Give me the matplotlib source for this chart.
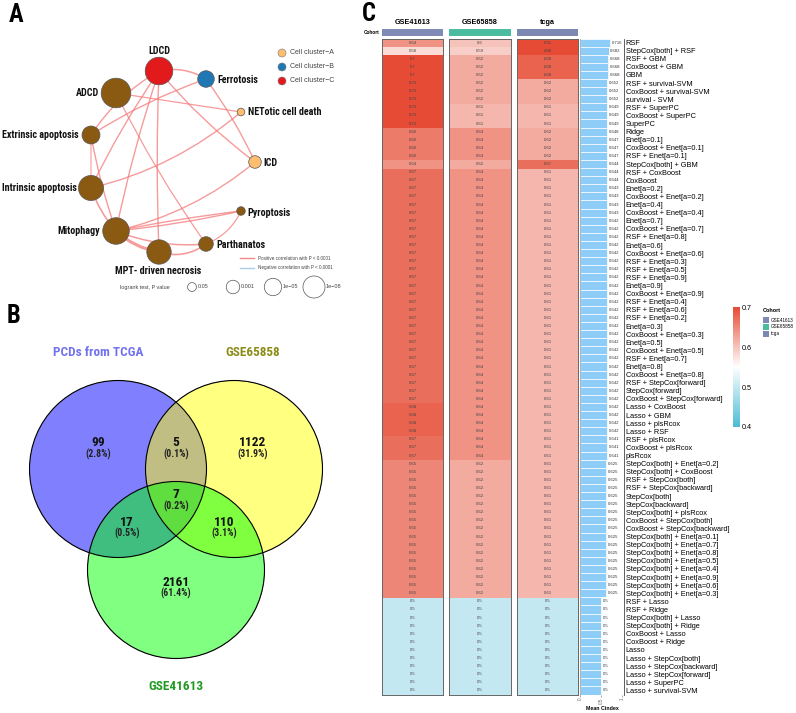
import numpy as np
import matplotlib
matplotlib.use("Agg")
import matplotlib.pyplot as plt
from matplotlib import font_manager as fm
from matplotlib.font_manager import FontProperties
from matplotlib.colors import LinearSegmentedColormap, Normalize, to_rgb
from matplotlib.patches import Circle, FancyArrowPatch, Rectangle
from matplotlib.cm import ScalarMappable

# ======================= DATA =======================
# ---- Panel A : PCD network ----
pcd_nodes = ["LDCD", "Ferrotosis", "ADCD", "NETotic cell death", "Extrinsic apoptosis", "ICD",
             "Intrinsic apoptosis", "Pyroptosis", "Mitophagy", "Parthanatos", "MPT- driven necrosis"]
pcd_cluster = ["C", "B", "D", "A", "D", "A", "D", "D", "D", "D", "D"]
pcd_neglog10p = [12.5, 4.5, 14.4, 0.95, 5.3, 2.6, 10.3, 1.2, 11.6, 3.5, 9.8]
pcd_edges = [("LDCD", "Ferrotosis"), ("LDCD", "Extrinsic apoptosis"), ("LDCD", "Intrinsic apoptosis"),
             ("LDCD", "Mitophagy"), ("LDCD", "MPT- driven necrosis"), ("LDCD", "ICD"),
             ("Ferrotosis", "Extrinsic apoptosis"), ("Ferrotosis", "ICD"),
             ("ADCD", "NETotic cell death"), ("ADCD", "Parthanatos"),
             ("NETotic cell death", "Intrinsic apoptosis"), ("ICD", "Mitophagy"),
             ("Extrinsic apoptosis", "Intrinsic apoptosis"), ("Extrinsic apoptosis", "Mitophagy"),
             ("Intrinsic apoptosis", "Mitophagy"), ("Mitophagy", "Pyroptosis"),
             ("Mitophagy", "Pyroptosis"), ("Mitophagy", "Parthanatos"),
             ("Mitophagy", "MPT- driven necrosis"), ("MPT- driven necrosis", "Parthanatos"),
             ("Parthanatos", "Pyroptosis")]
cluster_legend = ["Cell cluster\u2212A", "Cell cluster\u2212B", "Cell cluster\u2212C"]
legend_p = [0.05, 0.001, 1e-05, 1e-08]
legend_p_labels = ["0.05", "0.001", "1e\u221205", "1e\u221208"]

# ---- Panel B : Venn ----
venn_sets = ["PCDs from TCGA", "GSE65858", "GSE41613"]
venn_regions = ["100", "010", "001", "110", "101", "011", "111"]
venn_counts = [99, 1122, 2161, 5, 17, 110, 7]

# ---- Panel C : C-index heatmap ----
cohorts = ["GSE41613", "GSE65858", "tcga"]
models = [
    "RSF", "StepCox[both] + RSF", "RSF + GBM", "CoxBoost + GBM", "GBM",
    "RSF + survival-SVM", "CoxBoost + survival-SVM", "survival - SVM", "RSF + SuperPC",
    "CoxBoost + SuperPC", "SuperPC", "Ridge", "Enet[a=0.1]", "CoxBoost + Enet[a=0.1]",
    "RSF + Enet[a=0.1]", "StepCox[both] + GBM", "RSF + CoxBoost", "CoxBoost", "Enet[a=0.2]",
    "CoxBoost + Enet[a=0.2]", "Enet[a=0.4]", "CoxBoost + Enet[a=0.4]", "Enet[a=0.7]",
    "CoxBoost + Enet[a=0.7]", "RSF + Enet[a=0.8]", "Enet[a=0.6]", "CoxBoost + Enet[a=0.6]",
    "RSF + Enet[a=0.3]", "RSF + Enet[a=0.5]", "RSF + Enet[a=0.9]", "Enet[a=0.9]",
    "CoxBoost + Enet[a=0.9]", "RSF + Enet[a=0.4]", "RSF + Enet[a=0.6]", "RSF + Enet[a=0.2]",
    "Enet[a=0.3]", "CoxBoost + Enet[a=0.3]", "Enet[a=0.5]", "CoxBoost + Enet[a=0.5]",
    "RSF + Enet[a=0.7]", "Enet[a=0.8]", "CoxBoost + Enet[a=0.8]", "RSF + StepCox[forward]",
    "StepCox[forward]", "CoxBoost + StepCox[forward]", "Lasso + CoxBoost", "Lasso + GBM",
    "Lasso + plsRcox", "Lasso + RSF", "RSF + plsRcox", "CoxBoost + plsRcox", "plsRcox",
    "StepCox[both] + Enet[a=0.2]", "StepCox[both] + CoxBoost", "RSF + StepCox[both]",
    "RSF + StepCox[backward]", "StepCox[both]", "StepCox[backward]", "StepCox[both] + plsRcox",
    "CoxBoost + StepCox[both]", "CoxBoost + StepCox[backward]", "StepCox[both] + Enet[a=0.1]",
    "StepCox[both] + Enet[a=0.7]", "StepCox[both] + Enet[a=0.8]", "StepCox[both] + Enet[a=0.5]",
    "StepCox[both] + Enet[a=0.4]", "StepCox[both] + Enet[a=0.9]", "StepCox[both] + Enet[a=0.6]",
    "StepCox[both] + Enet[a=0.3]", "RSF + Lasso", "RSF + Ridge", "StepCox[both] + Lasso",
    "StepCox[both] + Ridge", "CoxBoost + Lasso", "CoxBoost + Ridge", "Lasso",
    "Lasso + StepCox[both]", "Lasso + StepCox[backward]", "Lasso + StepCox[forward]",
    "Lasso + SuperPC", "Lasso + survival-SVM"]
cidx_gse41613 = [
    0.64, 0.58, 0.70, 0.70, 0.70, 0.72, 0.72, 0.72, 0.72, 0.72,
    0.72, 0.66, 0.66, 0.66, 0.66, 0.64, 0.67, 0.67, 0.67, 0.67,
    0.67, 0.67, 0.67, 0.67, 0.67, 0.67, 0.67, 0.67, 0.67, 0.67,
    0.67, 0.67, 0.67, 0.67, 0.67, 0.67, 0.67, 0.67, 0.67, 0.67,
    0.67, 0.67, 0.67, 0.67, 0.67, 0.68, 0.68, 0.68, 0.68, 0.67,
    0.67, 0.67, 0.65, 0.65, 0.65, 0.65, 0.65, 0.65, 0.65, 0.65,
    0.65, 0.65, 0.65, 0.65, 0.65, 0.65, 0.65, 0.65, 0.65, 0.50,
    0.50, 0.50, 0.50, 0.50, 0.50, 0.50, 0.50, 0.50, 0.50, 0.50,
    0.50]
cidx_gse65858 = [
    0.60, 0.59, 0.62, 0.62, 0.62, 0.62, 0.62, 0.62, 0.61, 0.61,
    0.61, 0.64, 0.64, 0.64, 0.64, 0.62, 0.64, 0.64, 0.64, 0.64,
    0.64, 0.64, 0.64, 0.64, 0.64, 0.64, 0.64, 0.64, 0.64, 0.64,
    0.64, 0.64, 0.64, 0.64, 0.64, 0.64, 0.64, 0.64, 0.64, 0.64,
    0.64, 0.64, 0.64, 0.64, 0.64, 0.64, 0.64, 0.64, 0.64, 0.64,
    0.64, 0.64, 0.62, 0.62, 0.62, 0.62, 0.62, 0.62, 0.62, 0.62,
    0.62, 0.62, 0.62, 0.62, 0.62, 0.62, 0.62, 0.62, 0.62, 0.50,
    0.50, 0.50, 0.50, 0.50, 0.50, 0.50, 0.50, 0.50, 0.50, 0.50,
    0.50]
cidx_tcga = [
    0.91, 0.88, 0.68, 0.68, 0.68, 0.62, 0.62, 0.62, 0.61, 0.61,
    0.61, 0.62, 0.62, 0.62, 0.62, 0.67, 0.61, 0.61, 0.61, 0.61,
    0.61, 0.61, 0.61, 0.61, 0.61, 0.61, 0.61, 0.61, 0.61, 0.61,
    0.61, 0.61, 0.61, 0.61, 0.61, 0.61, 0.61, 0.61, 0.61, 0.61,
    0.61, 0.61, 0.61, 0.61, 0.61, 0.61, 0.61, 0.61, 0.61, 0.61,
    0.61, 0.61, 0.61, 0.61, 0.61, 0.61, 0.61, 0.61, 0.61, 0.61,
    0.61, 0.61, 0.61, 0.61, 0.61, 0.61, 0.61, 0.61, 0.61, 0.50,
    0.50, 0.50, 0.50, 0.50, 0.50, 0.50, 0.50, 0.50, 0.50, 0.50,
    0.50]
mean_cindex = [
    0.716, 0.682, 0.668, 0.668, 0.668, 0.652, 0.652, 0.652, 0.649, 0.649,
    0.649, 0.648, 0.647, 0.647, 0.647, 0.644, 0.644, 0.644, 0.643, 0.643,
    0.643, 0.643, 0.642, 0.642, 0.642, 0.642, 0.642, 0.642, 0.642, 0.642,
    0.642, 0.642, 0.642, 0.642, 0.642, 0.642, 0.642, 0.642, 0.642, 0.642,
    0.642, 0.642, 0.642, 0.642, 0.642, 0.642, 0.642, 0.642, 0.642, 0.641,
    0.641, 0.641, 0.625, 0.625, 0.625, 0.625, 0.625, 0.625, 0.625, 0.625,
    0.625, 0.625, 0.625, 0.625, 0.625, 0.625, 0.625, 0.625, 0.625, 0.5,
    0.5, 0.5, 0.5, 0.5, 0.5, 0.5, 0.5, 0.5, 0.5, 0.5,
    0.5]

# ======================= STYLE / LAYOUT =======================
W, H = 796, 713
SANS = "Liberation Sans"
plt.rcParams["font.family"] = [SANS, "DejaVu Sans"]


def _is_bold(w):
    if isinstance(w, str):
        return w.lower() in ("bold", "semibold", "demibold", "demi", "heavy", "extra bold", "black")
    return w >= 600


def find_condensed_bold():
    prefer = ["Liberation Sans Narrow", "Roboto Condensed", "Open Sans Condensed", "Noto Sans Condensed",
              "Arial Narrow", "DejaVu Sans Condensed"]
    cands = []
    for f in fm.fontManager.ttflist:
        if f.style != "normal" or not _is_bold(f.weight):
            continue
        stretch = str(f.stretch).lower()
        fname_low = f.fname.lower()
        is_cond = (f.name in prefer) or ("condensed" in stretch) or ("narrow" in fname_low) or \
                  ("condensed" in fname_low and "semi" not in fname_low and "extra" not in fname_low)
        if is_cond:
            rank = prefer.index(f.name) if f.name in prefer else len(prefer)
            wt = f.weight if not isinstance(f.weight, str) else 700
            cands.append((rank, abs(wt - 700), f.fname))
    if cands:
        cands.sort()
        return cands[0][2]
    return None


COND_FILE = find_condensed_bold()
WF = 0.82 if COND_FILE else 1.0


def cprops(size):
    if COND_FILE:
        return FontProperties(fname=COND_FILE, size=size)
    return FontProperties(family=[SANS, "DejaVu Sans"], weight="bold", size=size)


fig = plt.figure(figsize=(W / 100, H / 100), dpi=100)
fig.patch.set_facecolor("white")


def px(x0, y0, x1, y1):
    return [x0 / W, 1 - y1 / H, (x1 - x0) / W, (y1 - y0) / H]


ax0 = fig.add_axes([0, 0, 1, 1])
ax0.set_xlim(0, W)
ax0.set_ylim(H, 0)
ax0.axis("off")


def cond_text(x, y, s, size, **kw):
    ax0.text(x, y, s, fontproperties=cprops(size), **kw)


# panel letters
cond_text(9, 15, "A", 14.5 / WF, ha="left", va="center")
cond_text(7, 316, "B", 14.5 / WF, ha="left", va="center")
cond_text(362, 14, "C", 14.5 / WF, ha="left", va="center")

# ======================= PANEL A =======================
node_xy = {"LDCD": (159, 71), "Ferrotosis": (206, 79), "ADCD": (116, 93),
           "NETotic cell death": (241, 112), "Extrinsic apoptosis": (91, 135), "ICD": (255, 162),
           "Intrinsic apoptosis": (91, 188), "Pyroptosis": (241, 211), "Mitophagy": (116, 231),
           "Parthanatos": (206, 244), "MPT- driven necrosis": (159, 252)}
label_xy = {"LDCD": (159, 51, "center"), "Ferrotosis": (217, 80, "left"), "ADCD": (99, 93, "right"),
            "NETotic cell death": (248, 112, "left"), "Extrinsic apoptosis": (79, 135, "right"),
            "ICD": (263, 163, "left"), "Intrinsic apoptosis": (77, 188, "right"),
            "Pyroptosis": (247, 213, "left"), "Mitophagy": (100, 231, "right"),
            "Parthanatos": (216, 245, "left"), "MPT- driven necrosis": (158, 271, "center")}
edge_rad = [-0.2, 0.12, 0.04, 0.03, 0.02, 0.06, 0.06, -0.05, 0.0, 0.04,
            -0.12, -0.12, 0.0, 0.04, 0.1, -0.02, 0.03, 0.12, 0.15, 0.25, 0.2]
edge_lw = [1.1, 1.0, 1.0, 1.0, 1.0, 1.0, 1.0, 1.0, 0.9, 0.9,
           1.0, 1.0, 0.8, 1.0, 1.2, 1.0, 1.0, 1.1, 2.2, 1.2, 0.9]
cluster_color = {"A": "#FDBF6F", "B": "#1F78B4", "C": "#E31A1C", "D": "#8B5A12"}
EDGE_RED = "#F47A7A"


def p_radius(neglog):
    return 3.9 * np.sqrt(neglog)


for (a, b), rad, lw in zip(pcd_edges, edge_rad, edge_lw):
    pa, pb = node_xy[a], node_xy[b]
    ax0.add_patch(FancyArrowPatch(pa, pb, connectionstyle=f"arc3,rad={rad}", arrowstyle="-",
                                  color=EDGE_RED, lw=lw, alpha=0.75, zorder=2, shrinkA=0, shrinkB=0))

for name, cl, nl in zip(pcd_nodes, pcd_cluster, pcd_neglog10p):
    x, y = node_xy[name]
    ax0.add_patch(Circle((x, y), p_radius(nl), facecolor=cluster_color[cl], edgecolor="#555555",
                         lw=0.5, zorder=3))
    lx, ly, ha = label_xy[name]
    cond_text(lx, ly, name, 5.9 / WF, ha=ha, va="center", color="#111111", zorder=4)

# cluster legend
for i, (lab, cl) in enumerate(zip(cluster_legend, ["A", "B", "C"])):
    y = 53 + 14 * i
    ax0.add_patch(Circle((282, y), 4.0, facecolor=cluster_color[cl], edgecolor="#777777", lw=0.4, zorder=3))
    ax0.text(290, y, lab, fontsize=5.0, va="center", ha="left", color="#444444")

# correlation legend
ax0.plot([240, 254], [258, 258], color=EDGE_RED, lw=1.0, alpha=0.9)
ax0.plot([240, 254], [268, 268], color="#A9CFE8", lw=1.0)
ax0.text(258, 258, "Positive correlation with P < 0.0001", fontsize=3.3, va="center", color="#444444")
ax0.text(258, 268, "Negative correlation with P < 0.0001", fontsize=3.3, va="center", color="#444444")

# size legend
ax0.text(120, 287, "logrank test, P value", fontsize=4.0, va="center", color="#444444")
for cx, p, lab in zip([192, 233, 273, 314], legend_p, legend_p_labels):
    r = p_radius(-np.log10(p))
    ax0.add_patch(Circle((cx, 287), r, facecolor="white", edgecolor="#555555", lw=0.5, zorder=3))
    ax0.text(cx + r + 1, 287, lab, fontsize=4.0, va="center", ha="left", color="#444444", zorder=4)

# ======================= PANEL B =======================
venn_center = {"100": (118, 469), "010": (234, 469), "001": (176, 570)}
VR = 88.5
region_color = {"100": "#8080FF", "010": "#FFFF80", "001": "#80FF80", "110": "#C0BF82",
                "101": "#40BF80", "011": "#80FF40", "111": "#60DF40"}
gx = np.arange(25, 330, 0.25)
gy = np.arange(375, 665, 0.25)
GX, GY = np.meshgrid(gx, gy)
member = []
for key in ["100", "010", "001"]:
    cx, cy = venn_center[key]
    member.append(((GX - cx) ** 2 + (GY - cy) ** 2) <= VR ** 2)
img = np.zeros(GX.shape + (4,))
for key, col in region_color.items():
    mask = (member[0] == (key[0] == "1")) & (member[1] == (key[1] == "1")) & (member[2] == (key[2] == "1"))
    img[mask] = (*to_rgb(col), 1.0)
ax0.imshow(img, extent=(gx[0], gx[-1], gy[-1], gy[0]), aspect="auto", zorder=1, interpolation="antialiased")
ax0.set_xlim(0, W)
ax0.set_ylim(H, 0)
for key in ["100", "010", "001"]:
    ax0.add_patch(Circle(venn_center[key], VR, fill=False, edgecolor="black", lw=0.8, zorder=2))

total = sum(venn_counts)
count_xy = {"100": (98, 443), "010": (253, 443), "001": (176, 582), "110": (176, 443),
            "101": (127, 522), "011": (224, 522), "111": (176, 495)}
for key, n in zip(venn_regions, venn_counts):
    x, y = count_xy[key]
    cond_text(x, y, f"{n}", 9.6, ha="center", va="center", color="#111111", zorder=5)
    cond_text(x, y + 11.5, f"({100 * n / total:.1f}%)", 7.0, ha="center", va="center",
              color="#222222", zorder=5)

venn_title_xy = [(98, 352), (253, 352), (176, 686)]
venn_title_col = ["#7272F0", "#8C8C18", "#229A22"]
for s, (x, y), c in zip(venn_sets, venn_title_xy, venn_title_col):
    cond_text(x, y, s, 7.8 / WF, ha="center", va="center", color=c)

# ======================= PANEL C =======================
cmap = LinearSegmentedColormap.from_list("cidx", [(0, "#4DBBD5"), (0.5, "#FFFFFF"), (1, "#E64B35")])
norm = Normalize(0.4, 0.7)
cohort_color = ["#7F8BB6", "#4CBCA0", "#7C88B1"]
col_x = [(382, 443), (449, 511), (517, 578)]
ROW_TOP, ROW_BOT = 38.5, 694.5
nrow = len(models)

for vals, (x0, x1), cname, ccol in zip([cidx_gse41613, cidx_gse65858, cidx_tcga], col_x, cohorts, cohort_color):
    ax = fig.add_axes(px(x0, ROW_TOP, x1, ROW_BOT))
    ax.imshow(np.array(vals)[:, None], cmap=cmap, norm=norm, aspect="auto", interpolation="nearest")
    for i, v in enumerate(vals):
        ax.text(0, i, f"{v:g}", ha="center", va="center", fontsize=3.1, color="#444444")
    ax.set_xticks([])
    ax.set_yticks([])
    for sp in ax.spines.values():
        sp.set_color("#666666")
        sp.set_linewidth(0.7)
    axa = fig.add_axes(px(x0, 29, x1, 36))
    axa.set_facecolor(ccol)
    axa.set_xticks([])
    axa.set_yticks([])
    for sp in axa.spines.values():
        sp.set_visible(False)
    fig.text((x0 + x1) / 2 / W, 1 - 22 / H, cname, ha="center", va="center", fontsize=5.2, fontweight="bold")

fig.text(379 / W, 1 - 33 / H, "Cohort", ha="right", va="center", fontsize=3.4, fontweight="bold")

# mean C-index bars
axb = fig.add_axes(px(580, ROW_TOP, 624, ROW_BOT))
ypos = np.arange(nrow)
axb.barh(ypos, mean_cindex, height=1.0, color="#8DCDF8", edgecolor="white", linewidth=0.5)
for i, v in enumerate(mean_cindex):
    axb.text(v + 0.04, i, f"{v:g}", ha="left", va="center", fontsize=3.1, color="#333333")
axb.set_xlim(0, 44 / 42)
axb.set_ylim(nrow - 0.5, -0.5)
axb.yaxis.set_ticks_position("right")
axb.set_yticks(ypos)
axb.set_yticklabels(models, fontsize=5.3)
axb.tick_params(axis="y", length=0, pad=1.2)
axb.set_xticks([0, 0.5, 1])
axb.set_xticklabels(["0", "0.5", "1"], rotation=90, fontsize=3.3, color="#444444")
axb.tick_params(axis="x", length=1.5, width=0.4, pad=1, colors="#666666")
axb.set_xlabel("Mean Cindex", fontsize=3.8, fontweight="bold", labelpad=1)
axb.spines["top"].set_visible(False)
axb.spines["bottom"].set_visible(False)
axb.spines["left"].set_color("#999999")
axb.spines["left"].set_linewidth(0.5)
axb.spines["right"].set_color("#444444")
axb.spines["right"].set_linewidth(0.6)

# colorbar
cax = fig.add_axes(px(733, 307, 740, 427))
cb = fig.colorbar(ScalarMappable(norm=norm, cmap=cmap), cax=cax, ticks=[0.4, 0.5, 0.6, 0.7])
cb.outline.set_visible(False)
cax.tick_params(length=0, labelsize=5.2, pad=1.5)
cax.set_yticklabels(["0.4", "0.5", "0.6", "0.7"])

# cohort legend
ax0.text(763, 311, "Cohort", fontsize=4.0, fontweight="bold", va="center", ha="left")
for i, (cname, ccol) in enumerate(zip(cohorts, cohort_color)):
    y = 320 + 7 * i
    ax0.add_patch(Rectangle((763, y - 3), 6, 6, facecolor=ccol, edgecolor="none"))
    ax0.text(771, y, cname, fontsize=3.3, va="center", ha="left")

fig.savefig("out.png", dpi=100)
